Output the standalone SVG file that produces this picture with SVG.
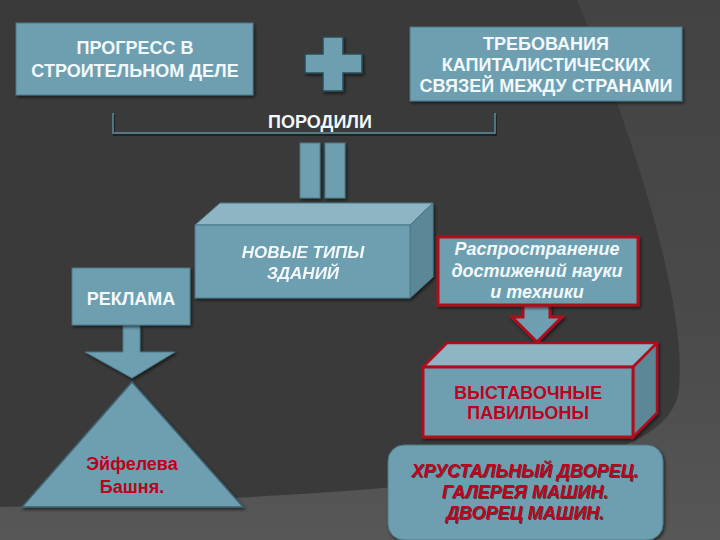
<svg xmlns="http://www.w3.org/2000/svg" width="720" height="540" viewBox="0 0 720 540">
<defs>
<linearGradient id="outer" x1="0" y1="0" x2="0" y2="1">
<stop offset="0" stop-color="#434343"/>
<stop offset="0.6" stop-color="#4a4a4a"/>
<stop offset="1" stop-color="#575757"/>
</linearGradient>
<filter id="sh" x="-10%" y="-10%" width="130%" height="140%">
<feDropShadow dx="1.5" dy="2" stdDeviation="1.5" flood-color="#000" flood-opacity="0.55"/>
</filter>
<filter id="tsh" x="-5%" y="-20%" width="110%" height="150%">
<feDropShadow dx="1" dy="1" stdDeviation="0.4" flood-color="#2a2a2a" flood-opacity="0.8"/>
</filter>
<style>
.box{fill:#6e9fb0;stroke:#4b7888;stroke-width:1;filter:url(#sh)}
.top{fill:#8db5c3;stroke:#4b7888;stroke-width:1}
.side{fill:#5b8797;stroke:#4b7888;stroke-width:1}
.red{stroke:#b0101c;stroke-width:3}
.wt{font-family:"Liberation Sans",Arial,sans-serif;font-size:18px;font-weight:bold;fill:#f2f9fc;text-anchor:middle}
.it{font-style:italic}
.rt{font-family:"Liberation Sans",Arial,sans-serif;font-size:18px;font-weight:bold;fill:#c0001a;text-anchor:middle}
</style>
</defs>
<rect width="720" height="540" fill="url(#outer)"/>
<path d="M0,0 L577,0 C640,150 690,320 678,395 C660,470 480,492 0,507 Z" fill="#3a3a3a"/>

<g id="connectors">
<g id="plus" filter="url(#sh)">
<path d="M323,37 H343 V54 H362 V73 H343 V91 H323 V73 H305 V54 H323 Z" fill="#6e9fb0" stroke="#2c4a55" stroke-width="1.5"/>
</g>
<g id="bracket">
<path d="M114,115 V135 H496 V115" fill="none" stroke="#222" stroke-width="2"/>
<path d="M113,113 V133 H495 V113" fill="none" stroke="#5b8d9c" stroke-width="1.5"/>
</g>
<g id="equals" filter="url(#sh)">
<rect x="300" y="143" width="20" height="55" fill="#6e9fb0" stroke="#4b7888"/>
<rect x="325" y="143" width="20" height="55" fill="#6e9fb0" stroke="#4b7888"/>
</g>
<g id="arrow-reklama" filter="url(#sh)">
<path d="M123,325 H140 V352 H175 L132,378 L85,352 H123 Z" fill="#6e9fb0" stroke="#4b7888"/>
</g>
<g id="arrow-rasp" filter="url(#sh)">
<path d="M523,305 H550 V317 H562 L537,342 L512,317 H523 Z" fill="#6e9fb0" class="red" stroke-width="2.5"/>
</g>
</g>

<g id="progress">
<rect class="box" x="16" y="23" width="237" height="72"/>
<text class="wt" x="135" y="54">ПРОГРЕСС В</text>
<text class="wt" x="135" y="77">СТРОИТЕЛЬНОМ ДЕЛЕ</text>
</g>

<g id="trebovaniya">
<rect class="box" x="410" y="27" width="272" height="74"/>
<text class="wt" x="546" y="50">ТРЕБОВАНИЯ</text>
<text class="wt" x="546" y="71">КАПИТАЛИСТИЧЕСКИХ</text>
<text class="wt" x="546" y="92">СВЯЗЕЙ МЕЖДУ СТРАНАМИ</text>
</g>

<g id="porodili">
<text class="wt" x="320" y="128">ПОРОДИЛИ</text>
</g>

<g id="novye" filter="url(#sh)">
<path class="top" d="M195,225 L220,203 H433 L410,225 Z"/>
<path class="side" d="M410,225 L433,203 V277 L410,298 Z"/>
<rect x="195" y="225" width="215" height="73" fill="#6e9fb0" stroke="#4b7888"/>
<text class="wt it" x="303" y="258" style="font-size:17px">НОВЫЕ ТИПЫ</text>
<text class="wt it" x="303" y="279" style="font-size:17px">ЗДАНИЙ</text>
</g>

<g id="reklama">
<rect class="box" x="72" y="268" width="118" height="57"/>
<text class="wt" x="131" y="305">РЕКЛАМА</text>
</g>

<g id="eiffel">
<path d="M132,382 L243,507 H22 Z" fill="#6e9fb0" stroke="#3d6372" stroke-width="1.5" filter="url(#sh)"/>
<text class="rt" x="132" y="470">Эйфелева</text>
<text class="rt" x="132" y="493">Башня.</text>
</g>

<g id="rasprostranenie">
<rect class="box red" x="438" y="237" width="200" height="68"/>
<text class="wt it" x="537" y="255">Распространение</text>
<text class="wt it" x="537" y="277">достижений науки</text>
<text class="wt it" x="537" y="298">и техники</text>
</g>

<g id="vystavochnye" filter="url(#sh)">
<path d="M423,367 L447,343 H657 L633,367 Z" fill="#8db5c3" stroke="#b0101c" stroke-width="2.5"/>
<path d="M633,367 L657,343 V413 L633,437 Z" fill="#5b8797" stroke="#b0101c" stroke-width="2.5"/>
<rect x="423" y="367" width="210" height="70" fill="#6e9fb0" stroke="#b0101c" stroke-width="3"/>
<text class="rt" x="528" y="399">ВЫСТАВОЧНЫЕ</text>
<text class="rt" x="528" y="419">ПАВИЛЬОНЫ</text>
</g>

<g id="dvorec">
<rect x="388" y="445" width="275" height="95" rx="16" fill="#6e9fb0" stroke="#4b7888" filter="url(#sh)"/>
<g filter="url(#tsh)">
<text class="rt it" x="525" y="477">ХРУСТАЛЬНЫЙ ДВОРЕЦ.</text>
<text class="rt it" x="525" y="498">ГАЛЕРЕЯ МАШИН.</text>
<text class="rt it" x="525" y="519">ДВОРЕЦ МАШИН.</text>
</g>
</g>
</svg>
